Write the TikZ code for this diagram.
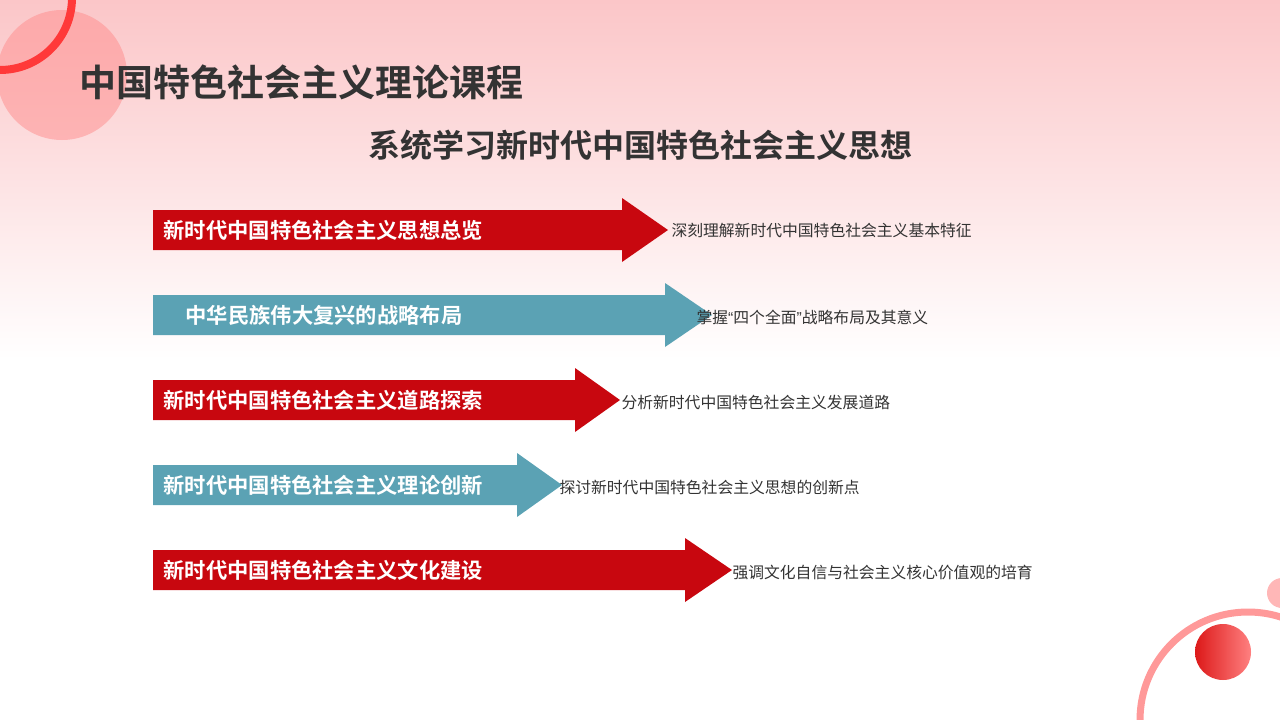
\documentclass[tikz,border=0pt]{standalone}
\usepackage{fontspec}
\setmainfont{Noto Sans CJK SC}
\newfontfamily\cjkb{Noto Sans CJK SC Bold}
\newfontfamily\latq{Liberation Sans}
\usetikzlibrary{positioning}
\definecolor{ared}{HTML}{C8070F}
\definecolor{ateal}{HTML}{5BA2B4}
\definecolor{dtext}{HTML}{333333}
\definecolor{bgpink}{HTML}{FBC6C8}
\tikzset{
 arrowtxt/.style={anchor=west,text=white,font=\cjkb\fontsize{21.3}{22}\selectfont},
 lbl/.style={anchor=west,text=dtext,font=\fontsize{15.8}{16}\selectfont},
}
\newcommand{\bigarrow}[5]{% name, color, y, bodyend, tip
 \fill[#2] (153,#3-20) -- (#4,#3-20) -- (#4,#3-32) -- (#5,#3) -- (#4,#3+32) -- (#4,#3+20) -- (153,#3+20) -- cycle;
 \coordinate (#1) at (#5,#3);}
\begin{document}
\begin{tikzpicture}[x=1pt,y=-1pt]
\useasboundingbox (0,0) rectangle (1280,720);
\shade[top color=bgpink,bottom color=white] (0,0) rectangle (1280,360);
\fill[red!45,opacity=0.5] (62,75) circle (65);
\draw[line width=8pt,red!70!pink] (0,70) arc (90:0:72);
\fill[red!40,opacity=0.7] (1282,593) circle (15);
\draw[line width=7pt,red!50,opacity=0.8] (1140,720) arc (180:360:108);
\shade[left color=red!85!black,right color=red!55,opacity=0.9] (1223,652) circle (28);
\node[anchor=west,text=dtext,font=\cjkb\fontsize{37}{37}\selectfont] (title) at (76,82) {中国特色社会主义理论课程};
\node[text=dtext,font=\cjkb\fontsize{32}{32}\selectfont] (sub) at (640,145) {系统学习新时代中国特色社会主义思想};
\bigarrow{a1}{ared}{230}{622}{668}
\node[arrowtxt] (t1) at (160,230) {新时代中国特色社会主义思想总览};
\node[lbl] (l1) at (668,230) {深刻理解新时代中国特色社会主义基本特征};
\bigarrow{a2}{ateal}{315}{665}{712}
\node[arrowtxt] (t2) at (182,315) {中华民族伟大复兴的战略布局};
\node[lbl] (l2) at (693,317) {掌握{\latq“}四个全面{\latq”}战略布局及其意义};
\bigarrow{a3}{ared}{400}{575}{620}
\node[arrowtxt] (t3) at (160,400) {新时代中国特色社会主义道路探索};
\node[lbl] (l3) at (618,402) {分析新时代中国特色社会主义发展道路};
\bigarrow{a4}{ateal}{485}{517}{562}
\node[arrowtxt] (t4) at (160,485) {新时代中国特色社会主义理论创新};
\node[lbl] (l4) at (556,487) {探讨新时代中国特色社会主义思想的创新点};
\bigarrow{a5}{ared}{570}{685}{732}
\node[arrowtxt] (t5) at (160,570) {新时代中国特色社会主义文化建设};
\node[lbl] (l5) at (729,572) {强调文化自信与社会主义核心价值观的培育};
\end{tikzpicture}
\end{document}
